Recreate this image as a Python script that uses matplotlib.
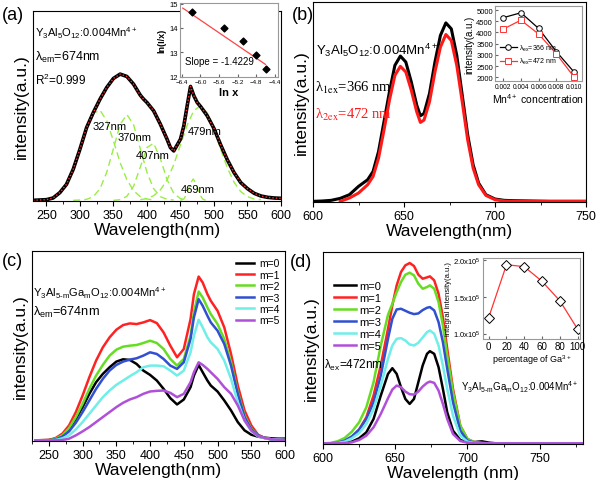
import matplotlib
matplotlib.use('Agg')
import matplotlib.pyplot as plt
from matplotlib.ticker import MultipleLocator

plt.rcParams['font.family'] = ['Liberation Sans', 'DejaVu Sans']
plt.rcParams['mathtext.fontset'] = 'custom'
plt.rcParams['mathtext.rm'] = 'Liberation Sans'
plt.rcParams['mathtext.it'] = 'Liberation Sans:italic'
plt.rcParams['mathtext.bf'] = 'Liberation Sans:bold'

# ---- (a) excitation spectrum + gaussian components (a.u.)
wl_a = [230, 240, 250, 260, 270, 280, 290, 300, 310, 320, 330, 340, 350, 360, 370, 380, 390, 395,
        400, 410, 420, 430, 435, 440, 450, 455, 460, 465, 470, 475, 480, 490, 500, 510, 520, 530,
        540, 550, 560, 570, 580, 590, 600]
exc_a = [0, 1, 2, 7, 23, 48, 93, 153, 218, 263, 303, 338, 365, 378, 371, 348, 315, 303,
         293, 268, 228, 183, 158, 148, 183, 223, 283, 341, 313, 293, 281, 253, 215, 166, 121, 83,
         53, 35, 21, 13, 9, 7, 6]
g327_wl = [250, 260, 270, 280, 290, 300, 310, 320, 330, 340, 350, 360, 370, 380, 390, 400, 410]
g327 = [2, 8, 20, 46, 91, 151, 215, 261, 270, 238, 178, 113, 62, 29, 11, 4, 1]
g370_wl = [290, 300, 310, 320, 330, 340, 350, 360, 370, 380, 390, 400, 410, 420, 430, 440]
g370 = [0, 1, 3, 11, 35, 84, 155, 227, 257, 227, 155, 84, 35, 11, 3, 1]
g407_wl = [350, 360, 370, 380, 390, 400, 410, 420, 430, 440, 450, 460]
g407 = [0, 2, 12, 42, 99, 158, 171, 125, 62, 21, 5, 1]
g469_wl = [450, 455, 460, 465, 469, 473, 478, 483, 488]
g469 = [0, 4, 21, 51, 64, 51, 21, 4, 0]
g479_wl = [390, 400, 410, 420, 430, 440, 450, 460, 470, 480, 490, 500, 510, 520, 530, 540, 550, 560, 570]
g479 = [2, 5, 14, 31, 61, 107, 166, 225, 269, 283, 262, 214, 153, 97, 54, 26, 11, 4, 2]
peak_labels = ['327nm', '370nm', '407nm', '469nm', '479nm']

# inset (a): ln(I/x) vs ln x
lnx = [-6.19, -5.49, -5.09, -4.81, -4.58]
lnIx = [14.66, 14.01, 13.45, 12.88, 12.30]
fit_lnx = [-6.38, -4.60]
fit_lnIx = [14.82, 12.50]

# ---- (b) emission spectra
wl_b1 = [600, 605, 610, 615, 620, 625, 630, 633, 636, 639, 642, 645, 648, 651, 654, 657, 659, 661,
         664, 667, 670, 673, 676, 679, 682, 685, 688, 691, 695, 700, 705, 710, 720, 730, 750]
em_366 = [0, 1, 3, 9, 20, 45, 65, 90, 150, 240, 330, 410, 438, 420, 360, 290, 258, 265,
          325, 420, 500, 538, 520, 440, 320, 200, 110, 55, 20, 7, 3, 2, 1, 0, 0]
wl_b2 = [615, 620, 625, 630, 633, 636, 639, 642, 645, 648, 651, 654, 657, 659, 661, 664, 667, 670,
         673, 676, 679, 682, 685, 688, 691, 695, 700, 705, 710, 750]
em_472 = [0, 10, 25, 50, 75, 130, 215, 305, 380, 407, 390, 335, 270, 238, 245, 300, 390, 465,
          503, 485, 410, 300, 185, 100, 50, 18, 5, 1, 0, 0]

# inset (b): intensity vs Mn4+ concentration
mn_conc = [0.002, 0.004, 0.006, 0.008, 0.010]
int_366 = [4660, 4880, 4180, 3150, 2240]
int_472 = [4150, 4550, 3930, 3050, 2020]

# ---- (c) excitation spectra, Y3Al5-mGamO12
m_labels = ['m=0', 'm=1', 'm=2', 'm=3', 'm=4', 'm=5']
m_colors = ['#000000', '#ff2222', '#66dd22', '#3050d0', '#70eee8', '#b050d8']
wl_c = [230, 250, 260, 270, 280, 290, 300, 310, 320, 330, 340, 350, 360, 370, 380, 390, 400, 410,
        420, 430, 440, 450, 460, 465, 472, 478, 485, 490, 500, 510, 520, 530, 540, 550, 560, 570,
        580, 590, 600]
exc_m0 = [0, 1, 5, 15, 35, 65, 100, 140, 175, 200, 220, 237, 244, 242, 230, 210, 197, 180,
          155, 127, 108, 123, 160, 195, 227, 205, 180, 165, 147, 120, 90, 55, 30, 17, 11, 8, 6, 5, 5]
exc_m1 = [0, 1, 7, 20, 45, 85, 135, 190, 240, 280, 310, 333, 347, 352, 350, 355, 362, 353,
          325, 285, 250, 275, 365, 440, 493, 475, 440, 420, 390, 340, 260, 165, 90, 45, 17, 7, 3, 2, 1]
exc_m2 = [0, 0, 5, 15, 37, 70, 110, 155, 195, 227, 255, 273, 282, 285, 287, 293, 300, 293,
          275, 245, 225, 245, 315, 385, 448, 430, 400, 380, 350, 305, 235, 145, 75, 35, 15, 7, 3, 2, 1]
exc_m3 = [0, 0, 3, 11, 27, 53, 85, 120, 155, 185, 210, 227, 237, 243, 247, 255, 265, 260,
          245, 225, 215, 235, 305, 370, 425, 405, 375, 355, 330, 290, 225, 140, 70, 33, 15, 7, 3, 2, 1]
exc_m4 = [0, 0, 1, 6, 15, 33, 55, 80, 105, 130, 150, 167, 180, 193, 205, 220, 225, 225,
          223, 210, 195, 210, 265, 315, 363, 340, 310, 295, 275, 240, 185, 115, 60, 27, 12, 6, 3, 2, 1]
exc_m5 = [0, 0, 0, 1, 5, 15, 27, 40, 55, 70, 85, 100, 113, 123, 130, 140, 147, 149,
          150, 143, 130, 140, 175, 205, 235, 227, 215, 205, 185, 160, 140, 105, 60, 30, 13, 7, 3, 2, 1]

# ---- (d) emission spectra, Y3Al5-mGamO12
wl_d = [600, 605, 610, 615, 620, 625, 630, 635, 640, 645, 648, 651, 654, 657, 660, 663, 666, 669,
        672, 674, 677, 680, 683, 686, 690, 695, 700, 705, 710, 715, 720, 780]
em_m0 = [0, 0, 0, 1, 5, 15, 33, 73, 143, 208, 225, 208, 168, 133, 118, 133, 183, 233,
         268, 276, 268, 228, 163, 93, 38, 10, 3, 4, 6, 2, 0, 0]
em_m1 = [0, 0, 1, 6, 18, 41, 78, 143, 233, 343, 413, 473, 513, 533, 540, 531, 505, 493,
         497, 500, 488, 448, 378, 283, 163, 53, 13, 3, 1, 0, 0, 0]
em_m2 = [0, 1, 6, 16, 35, 63, 108, 183, 293, 385, 418, 453, 483, 505, 511, 503, 478, 463,
         468, 473, 463, 423, 353, 263, 153, 53, 13, 3, 1, 0, 0, 0]
em_m3 = [0, 0, 2, 8, 21, 41, 73, 123, 203, 313, 373, 401, 403, 397, 391, 387, 389, 399,
         406, 408, 398, 363, 303, 223, 123, 38, 8, 2, 0, 0, 0, 0]
em_m4 = [0, 0, 1, 5, 15, 31, 58, 103, 173, 253, 293, 313, 315, 308, 296, 293, 301, 317,
         333, 338, 328, 293, 233, 163, 83, 23, 5, 1, 0, 0, 0, 0]
em_m5 = [0, 0, 0, 1, 3, 10, 23, 48, 88, 135, 161, 173, 168, 155, 147, 146, 155, 170,
         181, 185, 181, 158, 118, 73, 28, 7, 2, 0, 0, 0, 0, 0]

# inset (d): integral intensity vs Ga3+ percentage
ga_pct = [0, 20, 40, 60, 80, 100]
integral = [1.218e5, 1.936e5, 1.909e5, 1.709e5, 1.445e5, 1.059e5]

W, H = 598, 481
fig = plt.figure(figsize=(W / 100, H / 100), dpi=100)


def rect(x0, y0, x1, y1):
    # pixel box (top-left origin) -> figure fraction
    return [x0 / W, 1 - y1 / H, (x1 - x0) / W, (y1 - y0) / H]


def ftext(x, y, s, **kw):
    kw.setdefault('va', 'center')
    fig.text(x / W, 1 - y / H, s, **kw)


def main_style(ax, major, minor):
    ax.set_yticks([])
    ax.xaxis.set_major_locator(MultipleLocator(major))
    ax.xaxis.set_minor_locator(MultipleLocator(minor))
    ax.tick_params(axis='x', which='major', direction='out', length=3.5, labelsize=9, pad=2)
    ax.tick_params(axis='x', which='minor', direction='out', length=2)
    ax.set_ylabel('intensity(a.u.)', fontsize=12.5, labelpad=3)


def inset_style(ax):
    for s in ax.spines.values():
        s.set_color('#999999')
        s.set_linewidth(0.8)
    ax.tick_params(direction='in', length=2, labelsize=5.5, pad=1.5, color='#666666')


formula = 'Y$_3$Al$_5$O$_{12}$:0.004Mn$^{4+}$'
formula_m = 'Y$_3$Al$_{5\\text{-}\\rm m}$Ga$_{\\rm m}$O$_{12}$:0.004Mn$^{4+}$'

# ----- panel (a)
ax = fig.add_axes(rect(33, 12, 281, 202))
for gx, gy in [(g327_wl, g327), (g370_wl, g370), (g407_wl, g407), (g469_wl, g469), (g479_wl, g479)]:
    ax.plot(gx, gy, color='#99ee44', lw=1.0, ls=(0, (5, 3)))
ax.plot(wl_a, exc_a, color='black', lw=2.6)
ax.plot(wl_a, exc_a, color='#ff3030', lw=1.0, ls=(0, (1, 1.5)))
ax.set_xlim(230, 600)
ax.set_ylim(-2, 567)
main_style(ax, 50, 25)
ax.set_xlabel('Wavelength(nm)', fontsize=12.5, labelpad=1)
for lab, (px, py) in zip(peak_labels, [(110, 127), (135, 138), (153, 156), (198, 190), (205, 132)]):
    ftext(px, py, lab, fontsize=8, ha='center')
ftext(35, 33, formula, fontsize=8)
ftext(35, 57, 'λ$_{\\rm em}$=674nm', fontsize=9)
ftext(35, 80, 'R$^2$=0.999', fontsize=8.5)

ia = fig.add_axes(rect(180, 4, 278, 78))
ia.scatter(lnx, lnIx, marker='D', s=12, color='black', zorder=3)
ia.plot(fit_lnx, fit_lnIx, color='#ff4444', lw=0.9)
ia.set_xlim(-6.44, -4.33)
ia.set_ylim(11.98, 15.03)
ia.set_xticks([-6.4, -6.0, -5.6, -5.2, -4.8, -4.4])
ia.set_yticks([12, 13, 14, 15])
inset_style(ia)
ia.tick_params(axis='x', labelsize=4.5)
ia.set_xlabel('ln x', fontsize=8, fontweight='bold', labelpad=2)
ia.set_ylabel('ln(I/x)', fontsize=6.5, fontweight='bold', labelpad=2)
ia.text(-6.33, 12.62, 'Slope = -1.4229', fontsize=7, va='center')

# ----- panel (b)
ax = fig.add_axes(rect(313, 3, 586, 203))
ax.plot(wl_b1, em_366, color='black', lw=2.2)
ax.plot(wl_b2, em_472, color='#ff1a1a', lw=2.2)
ax.set_xlim(600, 750)
ax.set_ylim(-2, 601)
main_style(ax, 50, 25)
ax.set_xlabel('Wavelength(nm)', fontsize=12.5, labelpad=1)
ftext(316, 50, formula, fontsize=9.5)
ftext(315, 88, 'λ$_{\\rm 1ex}$=366 nm', fontsize=10.5, family='Liberation Serif', math_fontfamily='stix')
ftext(315, 115, 'λ$_{\\rm 2ex}$=472 nm', fontsize=10.5, family='Liberation Serif', math_fontfamily='stix',
      color='#ff1a1a')

ib = fig.add_axes(rect(495, 7, 582, 82))
ib.plot(mn_conc, int_366, color='black', lw=0.9, marker='o', ms=4, mfc='white', mec='black', mew=0.7,
        label='λ$_{\\rm ex}$=366 nm')
ib.plot(mn_conc, int_472, color='#ff3333', lw=0.9, marker='s', ms=3.8, mfc='white', mec='#ff3333', mew=0.7,
        label='λ$_{\\rm ex}$=472 nm')
ib.set_xlim(0.00107, 0.0109)
ib.set_ylim(1840, 5180)
ib.set_xticks(mn_conc)
ib.set_xticklabels(['0.002', '0.004', '0.006', '0.008', '0.010'])
ib.set_yticks([2000, 2500, 3000, 3500, 4000, 4500, 5000])
inset_style(ib)
ib.tick_params(axis='x', labelsize=4.8)
ib.set_xlabel('Mn$^{4+}$ concentration', fontsize=7.5, labelpad=1)
ib.set_ylabel('intensity(a.u.)', fontsize=7, labelpad=1)
ib.legend(loc='lower left', bbox_to_anchor=(0.0, 0.13), frameon=False, fontsize=5, handlelength=2.4,
          handletextpad=0.3, labelspacing=0.5, borderpad=0.2)

# ----- panel (c)
ax = fig.add_axes(rect(32, 252, 285, 442))
for ys, c, lab in zip([exc_m0, exc_m1, exc_m2, exc_m3, exc_m4, exc_m5], m_colors, m_labels):
    ax.plot(wl_c, ys, color=c, lw=1.8, label=lab)
ax.set_xlim(225, 600)
ax.set_ylim(-2, 570)
main_style(ax, 50, 25)
ax.set_xlabel('Wavelength(nm)', fontsize=12.5, labelpad=1)
ax.legend(loc='upper left', bbox_to_anchor=(0.78, 0.995), frameon=False, fontsize=7.5, handlelength=1.8,
          handletextpad=0.5, labelspacing=0.14, borderpad=0.1)
ftext(33, 293, formula_m, fontsize=8)
ftext(33, 312, 'λ$_{\\rm em}$=674nm', fontsize=9.2)

# ----- panel (d)
ax = fig.add_axes(rect(323, 253, 583, 445))
for ys, c, lab in zip([em_m0, em_m1, em_m2, em_m3, em_m4, em_m5], m_colors, m_labels):
    ax.plot(wl_d, ys, color=c, lw=1.8, label=lab)
ax.set_xlim(600, 780)
ax.set_ylim(-2, 573)
main_style(ax, 50, 25)
ax.set_xlabel('Wavelength (nm)', fontsize=12.5, labelpad=1)
ax.legend(loc='upper left', bbox_to_anchor=(0.015, 0.885), frameon=False, fontsize=8, handlelength=2.0,
          handletextpad=0.3, labelspacing=0.18, borderpad=0.1)
ftext(324, 365, 'λ$_{\\rm ex}$=472nm', fontsize=8.5)
ftext(461, 387, formula_m, fontsize=7)

idd = fig.add_axes(rect(483, 259, 580, 340))
idd.plot(ga_pct, integral, color='#ff3333', lw=0.9, marker='D', ms=5, mfc='white', mec='black', mew=0.7)
idd.set_xlim(-6.4, 102.6)
idd.set_ylim(0.926e5, 2.027e5)
idd.set_xticks(ga_pct)
idd.set_yticks([1.0e5, 1.5e5, 2.0e5])
idd.set_yticklabels(['1.0x10$^5$', '1.5x10$^5$', '2.0x10$^5$'])
inset_style(idd)
idd.tick_params(axis='x', labelsize=7)
idd.set_xlabel('percentage of Ga$^{3+}$', fontsize=6.5, labelpad=1)
idd.set_ylabel('integral intensity(a.u.)', fontsize=5.5, labelpad=1)

# panel letters
ftext(2, 15, '(a)', fontsize=13)
ftext(292, 15, '(b)', fontsize=13)
ftext(2, 262, '(c)', fontsize=13)
ftext(290, 263, '(d)', fontsize=13)

fig.savefig('out.png', dpi=100)
